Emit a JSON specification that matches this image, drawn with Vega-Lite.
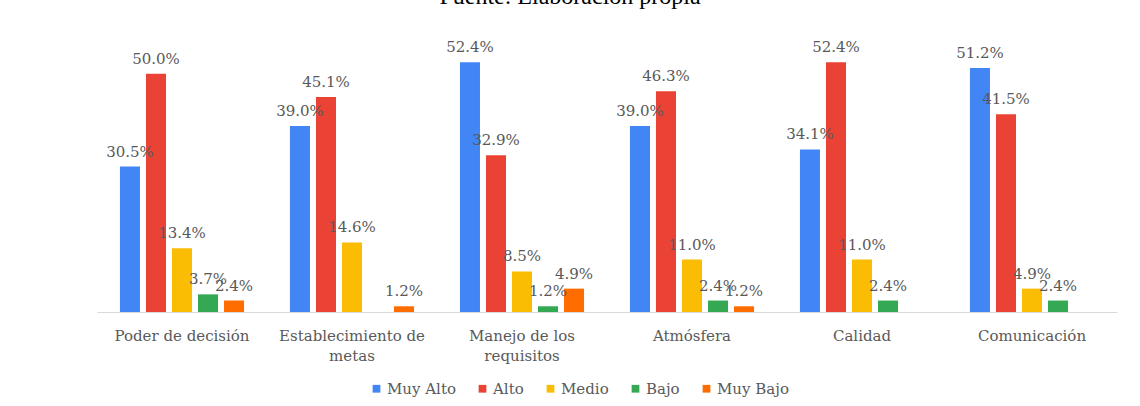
{
  "$schema": "https://vega.github.io/schema/vega-lite/v6.json",
  "autosize": {"type": "none"},
  "width": 1020,
  "height": 286,
  "padding": {"left": 97, "top": 26, "right": 23, "bottom": 94},
  "background": "#ffffff",
  "title": {
    "text": "Fuente: Elaboración propia",
    "font": "Liberation Serif",
    "fontSize": 24,
    "fontWeight": "normal",
    "color": "#000000",
    "anchor": "middle",
    "baseline": "alphabetic",
    "offset": -2,
    "dx": -37
  },
  "data": {
    "values": [
      {"Dimension": "Poder de decisión", "Nivel": "Muy Alto", "Porcentaje": 30.5},
      {"Dimension": "Poder de decisión", "Nivel": "Alto", "Porcentaje": 50.0},
      {"Dimension": "Poder de decisión", "Nivel": "Medio", "Porcentaje": 13.4},
      {"Dimension": "Poder de decisión", "Nivel": "Bajo", "Porcentaje": 3.7},
      {"Dimension": "Poder de decisión", "Nivel": "Muy Bajo", "Porcentaje": 2.4},
      {"Dimension": "Establecimiento de metas", "Nivel": "Muy Alto", "Porcentaje": 39.0},
      {"Dimension": "Establecimiento de metas", "Nivel": "Alto", "Porcentaje": 45.1},
      {"Dimension": "Establecimiento de metas", "Nivel": "Medio", "Porcentaje": 14.6},
      {"Dimension": "Establecimiento de metas", "Nivel": "Muy Bajo", "Porcentaje": 1.2},
      {"Dimension": "Manejo de los requisitos", "Nivel": "Muy Alto", "Porcentaje": 52.4},
      {"Dimension": "Manejo de los requisitos", "Nivel": "Alto", "Porcentaje": 32.9},
      {"Dimension": "Manejo de los requisitos", "Nivel": "Medio", "Porcentaje": 8.5},
      {"Dimension": "Manejo de los requisitos", "Nivel": "Bajo", "Porcentaje": 1.2},
      {"Dimension": "Manejo de los requisitos", "Nivel": "Muy Bajo", "Porcentaje": 4.9},
      {"Dimension": "Atmósfera", "Nivel": "Muy Alto", "Porcentaje": 39.0},
      {"Dimension": "Atmósfera", "Nivel": "Alto", "Porcentaje": 46.3},
      {"Dimension": "Atmósfera", "Nivel": "Medio", "Porcentaje": 11.0},
      {"Dimension": "Atmósfera", "Nivel": "Bajo", "Porcentaje": 2.4},
      {"Dimension": "Atmósfera", "Nivel": "Muy Bajo", "Porcentaje": 1.2},
      {"Dimension": "Calidad", "Nivel": "Muy Alto", "Porcentaje": 34.1},
      {"Dimension": "Calidad", "Nivel": "Alto", "Porcentaje": 52.4},
      {"Dimension": "Calidad", "Nivel": "Medio", "Porcentaje": 11.0},
      {"Dimension": "Calidad", "Nivel": "Bajo", "Porcentaje": 2.4},
      {"Dimension": "Comunicación", "Nivel": "Muy Alto", "Porcentaje": 51.2},
      {"Dimension": "Comunicación", "Nivel": "Alto", "Porcentaje": 41.5},
      {"Dimension": "Comunicación", "Nivel": "Medio", "Porcentaje": 4.9},
      {"Dimension": "Comunicación", "Nivel": "Bajo", "Porcentaje": 2.4}
    ]
  },
  "encoding": {
    "x": {
      "field": "Dimension",
      "type": "nominal",
      "sort": ["Poder de decisión", "Establecimiento de metas", "Manejo de los requisitos", "Atmósfera", "Calidad", "Comunicación"],
      "scale": {"paddingInner": 0.27, "paddingOuter": 0.135},
      "axis": {
        "title": null,
        "labelAngle": 0,
        "ticks": false,
        "domain": true,
        "domainColor": "#d9d9d9",
        "domainWidth": 1,
        "labelPadding": 16,
        "labelFont": "DejaVu Serif",
        "labelFontSize": 15,
        "labelColor": "#595959",
        "labelLineHeight": 20,
        "labelLimit": 300,
        "labelExpr": "datum.value == 'Establecimiento de metas' ? ['Establecimiento de', 'metas'] : datum.value == 'Manejo de los requisitos' ? ['Manejo de los', 'requisitos'] : datum.value"
      }
    },
    "xOffset": {
      "field": "Nivel",
      "type": "nominal",
      "sort": ["Muy Alto", "Alto", "Medio", "Bajo", "Muy Bajo"],
      "scale": {"paddingInner": 0.23, "paddingOuter": 0}
    },
    "y": {
      "field": "Porcentaje",
      "type": "quantitative",
      "scale": {"domain": [0, 60], "nice": false},
      "axis": null
    }
  },
  "layer": [
    {
      "mark": {"type": "bar"},
      "encoding": {
        "color": {
          "field": "Nivel",
          "type": "nominal",
          "sort": ["Muy Alto", "Alto", "Medio", "Bajo", "Muy Bajo"],
          "scale": {
            "domain": ["Muy Alto", "Alto", "Medio", "Bajo", "Muy Bajo"],
            "range": ["#4285F4", "#EA4335", "#FBBC04", "#34A853", "#FF6D01"]
          },
          "legend": {
            "title": null,
            "orient": "none",
            "direction": "horizontal",
            "legendX": 272,
            "legendY": 355,
            "symbolType": "square",
            "symbolSize": 60,
            "symbolStrokeWidth": 0,
            "labelFont": "DejaVu Serif",
            "labelFontSize": 15,
            "labelColor": "#595959",
            "columnPadding": 19,
            "labelOffset": 3
          }
        }
      }
    },
    {
      "mark": {
        "type": "text",
        "baseline": "bottom",
        "dy": -7,
        "font": "DejaVu Serif",
        "fontSize": 15,
        "color": "#595959",
        "text": {"expr": "format(datum.Porcentaje, '.1f') + '%'"}
      }
    }
  ],
  "config": {
    "view": {"stroke": null}
  }
}
